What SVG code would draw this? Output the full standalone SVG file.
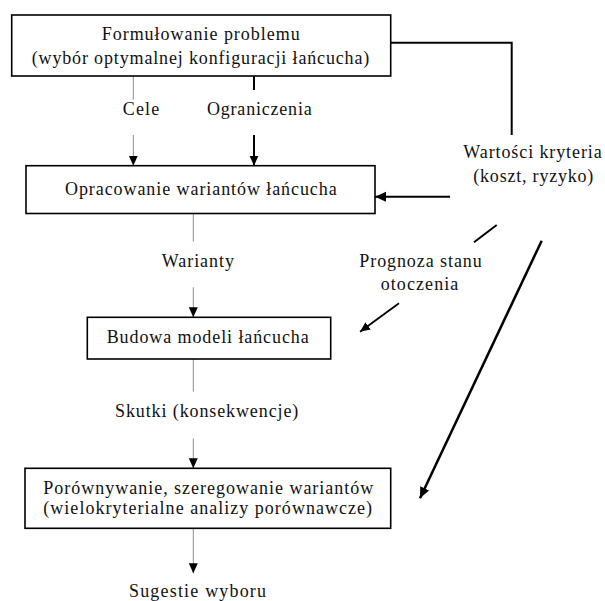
<svg xmlns="http://www.w3.org/2000/svg" width="605" height="601" viewBox="0 0 605 601">
<style>
text{font-family:"Liberation Serif","Times New Roman",serif;font-size:18px;fill:#111}
.box{fill:#fff;stroke:#000;stroke-width:1.6}
.thin{stroke:#8c8c8c;stroke-width:1;fill:none}
.thick{stroke:#000;stroke-width:2;fill:none}
</style>
<defs>
<marker id="ah" markerUnits="userSpaceOnUse" markerWidth="10" markerHeight="10" viewBox="0 0 10 10" refX="10" refY="5" orient="auto"><path d="M0,0.5 L10,5 L0,9.5 z" fill="#000"/></marker>
<marker id="ahb" markerUnits="userSpaceOnUse" markerWidth="11" markerHeight="11" viewBox="0 0 10 10" refX="10" refY="5" orient="auto"><path d="M0,0.5 L10,5 L0,9.5 z" fill="#000"/></marker>
</defs>
<rect width="605" height="601" fill="#fff"/>
<g id="connectors">
<line class="thin" x1="133.3" y1="76" x2="133.3" y2="99.5"/>
<line class="thin" x1="133.3" y1="135" x2="133.3" y2="165.7" marker-end="url(#ah)"/>
<line class="thick" x1="254" y1="76" x2="254" y2="90"/>
<line class="thick" x1="254" y1="135" x2="254" y2="165.7" marker-end="url(#ah)"/>
<polyline class="thick" points="390.7,42.7 511.7,42.7 511.7,135"/>
<line class="thick" x1="450" y1="196.7" x2="375" y2="196.7" marker-end="url(#ahb)"/>
<line class="thin" x1="193.3" y1="213.5" x2="193.3" y2="241.7"/>
<line class="thin" x1="193.3" y1="287.3" x2="193.3" y2="317.3" marker-end="url(#ah)"/>
<line class="thin" x1="193.3" y1="359" x2="193.3" y2="391.7"/>
<line class="thin" x1="193.3" y1="438.3" x2="193.3" y2="468.3" marker-end="url(#ah)"/>
<line class="thin" x1="193.3" y1="528.3" x2="193.3" y2="573.3" marker-end="url(#ah)"/>
<line class="thick" x1="496.7" y1="225" x2="474" y2="242.3"/>
<line stroke="#000" stroke-width="1.8" x1="399" y1="303.3" x2="360" y2="331.7" marker-end="url(#ah)"/>
<line stroke="#000" stroke-width="2.5" x1="541.7" y1="240.7" x2="420" y2="498.3" marker-end="url(#ahb)"/>
</g>
<g id="n1">
<rect class="box" x="11.7" y="15" width="379" height="61"/>
<text x="101.7" y="40" textLength="198" lengthAdjust="spacing">Formułowanie problemu</text>
<text x="31.7" y="63.5" textLength="337.6" lengthAdjust="spacing">(wybór optymalnej konfiguracji łańcucha)</text>
</g>
<g id="lbl-cele"><text x="122.7" y="115" textLength="36.6" lengthAdjust="spacing">Cele</text></g>
<g id="lbl-ogr"><text x="207" y="115" textLength="104.7" lengthAdjust="spacing">Ograniczenia</text></g>
<g id="n2">
<rect class="box" x="26" y="165.7" width="349" height="47.8"/>
<text x="65" y="195" textLength="271.7" lengthAdjust="spacing">Opracowanie wariantów łańcucha</text>
</g>
<g id="lbl-wart">
<text x="463.3" y="158.3" textLength="138.4" lengthAdjust="spacing">Wartości kryteria</text>
<text x="473.3" y="181.7" textLength="120" lengthAdjust="spacing">(koszt, ryzyko)</text>
</g>
<g id="lbl-warianty"><text x="161.7" y="266.7" textLength="72.3" lengthAdjust="spacing">Warianty</text></g>
<g id="lbl-prog">
<text x="359.3" y="266.7" textLength="122.4" lengthAdjust="spacing">Prognoza stanu</text>
<text x="380.7" y="290" textLength="77.6" lengthAdjust="spacing">otoczenia</text>
</g>
<g id="n3">
<rect class="box" x="87.3" y="317.3" width="243.4" height="41.7"/>
<text x="106.7" y="343.3" textLength="202" lengthAdjust="spacing">Budowa modeli łańcucha</text>
</g>
<g id="lbl-skutki"><text x="115" y="416.7" textLength="183.3" lengthAdjust="spacing">Skutki (konsekwencje)</text></g>
<g id="n4">
<rect class="box" x="25" y="468.3" width="365.7" height="60"/>
<text x="43.3" y="494" textLength="330" lengthAdjust="spacing">Porównywanie, szeregowanie wariantów</text>
<text x="43.3" y="514" textLength="328.7" lengthAdjust="spacing">(wielokryterialne analizy porównawcze)</text>
</g>
<g id="lbl-sug"><text x="129" y="596.5" textLength="137" lengthAdjust="spacing">Sugestie wyboru</text></g>
</svg>
